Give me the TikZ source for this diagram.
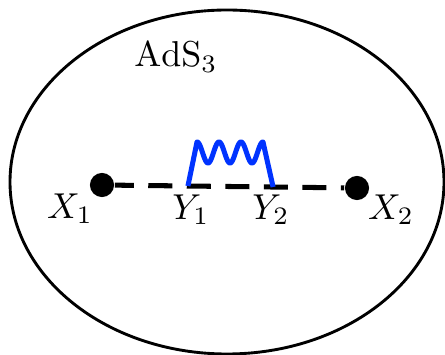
\documentclass[tikz,border=0pt]{standalone}
\usepackage{amsmath}
\usetikzlibrary{calc}
\definecolor{wavblue}{RGB}{0,51,255}

\begin{document}
\begin{tikzpicture}[x=0.2778pt, y=-0.2778pt,
  bdot/.style={circle, fill=black, inner sep=0pt, minimum size=6.7pt}]
  \useasboundingbox (0,0) rectangle (445,355);
  \draw[line width=0.8pt] (227,182) ellipse [x radius=217, y radius=172];
  \node (ads) at (176,57) {$\mathrm{AdS}_3$};
  \node[bdot] (X1) at (102,185) {};
  \node[bdot] (X2) at (357,188) {};
  \coordinate (Y1) at ($(X1)!0.337!(X2)$);
  \coordinate (Y2) at ($(X1)!0.671!(X2)$);
  \draw[line width=1.4pt, dash pattern=on 6.7pt off 4pt, dash phase=1.4pt] (X1) -- (X2);
  % propagator between the two bulk points
  \draw[wavblue, line width=1.4pt, line join=round] (Y1) -- (197,142)
    -- plot[domain=0:66, samples=120] ({197+\x},{152.5-10.5*cos(16.3636*\x)}) -- (Y2);
  \node (X1lab) at (70,209) {$X_1$};
  \node (Y1lab) at (191,210) {$Y_1$};
  \node (Y2lab) at (271,210) {$Y_2$};
  \node (X2lab) at (391,210) {$X_2$};
\end{tikzpicture}
\end{document}
